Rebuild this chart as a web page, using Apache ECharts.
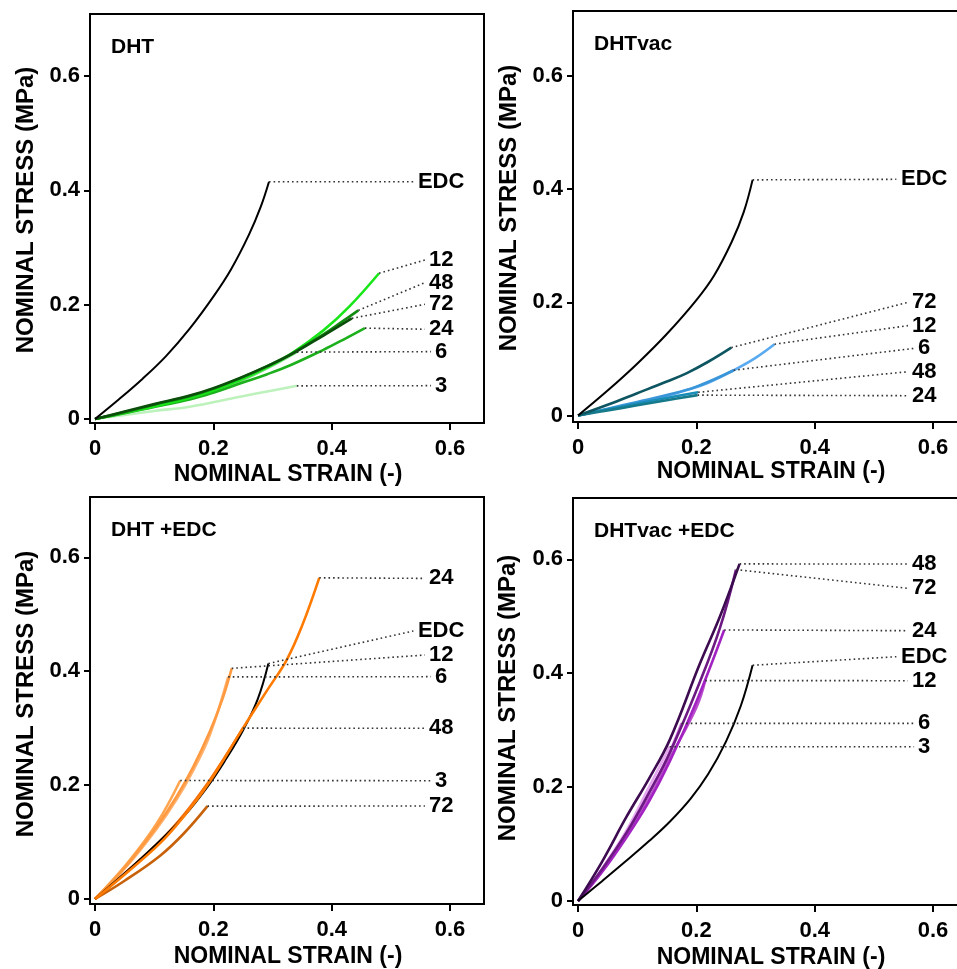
<!DOCTYPE html>
<html>
<head>
<meta charset="utf-8">
<script src="https://cdn.jsdelivr.net/npm/echarts@6/dist/echarts.min.js"></script>
<style>
  html, body { margin: 0; padding: 0; background: #fff; overflow: hidden; }
  #chart { width: 1000px; height: 969px; }
</style>
</head>
<body>
<div id="chart"></div>
<script>
// tick values shared by all four panels
var ticks = [0, 0.2, 0.4, 0.6];

// ---- DHT ----
var dhtLabels = ['EDC', '12', '48', '72', '24', '6', '3'];
var dhtLabelY = [0.415, 0.278, 0.2385, 0.2006, 0.157, 0.1178, 0.0583];
var dhtEDC = [[0,0],[0.04,0.034],[0.08,0.07],[0.12,0.11],[0.16,0.158],[0.2,0.214],[0.23,0.262],[0.26,0.322],[0.28,0.371],[0.294,0.415]];
var dht12 = [[0,0],[0.05,0.011],[0.1,0.022],[0.16,0.037],[0.2,0.05],[0.245,0.068],[0.29,0.09],[0.33,0.113],[0.386,0.155],[0.43,0.197],[0.48,0.255]];
var dht48 = [[0,0],[0.05,0.012],[0.1,0.025],[0.16,0.04],[0.2,0.053],[0.245,0.071],[0.29,0.092],[0.33,0.113],[0.386,0.148],[0.42,0.172],[0.445,0.19]];
var dht72 = [[0,0],[0.05,0.013],[0.1,0.026],[0.16,0.041],[0.2,0.054],[0.245,0.072],[0.29,0.092],[0.33,0.112],[0.386,0.146],[0.434,0.176]];
var dht24 = [[0,0],[0.05,0.01],[0.1,0.021],[0.16,0.034],[0.2,0.046],[0.245,0.062],[0.29,0.078],[0.33,0.094],[0.386,0.121],[0.42,0.139],[0.456,0.159]];
var dht6 = [[0,0],[0.05,0.011],[0.1,0.023],[0.16,0.037],[0.2,0.049],[0.245,0.066],[0.29,0.088],[0.341,0.117]];
var dht3 = [[0,0],[0.05,0.007],[0.1,0.014],[0.16,0.0215],[0.245,0.039],[0.3,0.05],[0.341,0.058]];

// ---- DHTvac ----
var vacLabels = ['EDC', '72', '12', '6', '48', '24'];
var vacLabelY = [0.4175, 0.2, 0.1588, 0.1187, 0.0774, 0.035];
var vacEDC = [[0,0],[0.05,0.044],[0.1,0.0915],[0.15,0.144],[0.2,0.204],[0.23,0.2475],[0.26,0.3075],[0.28,0.3595],[0.295,0.4165]];
var vac72 = [[0,0],[0.05,0.019],[0.099,0.039],[0.15,0.06],[0.184,0.075],[0.22,0.095],[0.259,0.12]];
var vac12 = [[0,0],[0.05,0.011],[0.099,0.022],[0.15,0.035],[0.184,0.045],[0.22,0.058],[0.263,0.08],[0.3,0.102],[0.332,0.126]];
var vac6 = [[0,0],[0.05,0.012],[0.1,0.024],[0.15,0.036],[0.2,0.051],[0.263,0.08]];
var vac48 = [[0,0],[0.05,0.011],[0.1,0.021],[0.15,0.031],[0.203,0.041]];
var vac24 = [[0,0],[0.05,0.009],[0.1,0.018],[0.15,0.027],[0.202,0.036]];

// ---- DHT +EDC ----
var dheLabels = ['24', 'EDC', '12', '6', '48', '3', '72'];
var dheLabelY = [0.563, 0.4706, 0.4284, 0.3904, 0.2997, 0.2077, 0.1633];
var dheEDC = [[0,0],[0.05,0.045],[0.1,0.0925],[0.15,0.145],[0.19,0.197],[0.22,0.2435],[0.25,0.296],[0.275,0.351],[0.293,0.4135]];
var dhe24 = [[0,0],[0.05,0.043],[0.11,0.098],[0.15,0.145],[0.19,0.2],[0.25,0.3],[0.29,0.365],[0.324,0.42],[0.35,0.48],[0.379,0.564]];
var dhe12 = [[0,0],[0.054,0.06],[0.104,0.127],[0.138,0.18],[0.166,0.232],[0.194,0.294],[0.215,0.35],[0.231,0.405]];
var dhe6 = [[0,0],[0.054,0.058],[0.104,0.123],[0.138,0.175],[0.166,0.226],[0.194,0.288],[0.225,0.39]];
var dhe48 = [[0,0],[0.05,0.045],[0.11,0.102],[0.15,0.148],[0.19,0.203],[0.22,0.25],[0.25,0.3]];
var dhe3 = [[0,0],[0.054,0.062],[0.104,0.132],[0.144,0.208]];
var dhe72 = [[0,0],[0.05,0.032],[0.11,0.076],[0.15,0.115],[0.19,0.163]];

// ---- DHTvac +EDC ----
var dveLabels = ['48', '72', '24', 'EDC', '12', '6', '3'];
var dveLabelY = [0.5917, 0.549, 0.4747, 0.429, 0.3869, 0.312, 0.271];
var dveEDC = [[0,0],[0.04,0.0344],[0.08,0.0692],[0.12,0.1052],[0.155,0.1392],[0.19,0.1794],[0.22,0.2229],[0.25,0.2799],[0.275,0.3424],[0.295,0.414]];
var dve48 = [[0,0],[0.04,0.068],[0.082,0.148],[0.12,0.215],[0.155,0.283],[0.206,0.417],[0.24,0.5],[0.273,0.592]];
var dve72 = [[0,0],[0.04,0.055],[0.082,0.12],[0.12,0.19],[0.155,0.26],[0.206,0.385],[0.24,0.48],[0.267,0.582]];
var dve24 = [[0,0],[0.04,0.05],[0.082,0.112],[0.12,0.175],[0.155,0.245],[0.2,0.35],[0.247,0.476]];
var dve12 = [[0,0],[0.04,0.052],[0.082,0.115],[0.12,0.18],[0.16,0.26],[0.2,0.34],[0.215,0.387]];
var dve6 = [[0,0],[0.04,0.054],[0.082,0.12],[0.12,0.19],[0.15,0.25],[0.175,0.312]];
var dve3 = [[0,0],[0.04,0.056],[0.082,0.124],[0.12,0.2],[0.155,0.271]];

var FONT = 'Liberation Sans, Arial, sans-serif';
var LABEL_X = 0.585;
var PX_PER_X = 591.7;

var panels = [
  { title: 'DHT', grid: { left: 90, top: 14, width: 394, height: 409 }, x: [-0.0085, 0.6574], y: [-0.007, 0.7084],
    labels: dhtLabels, labelY: dhtLabelY,
    curves: { EDC: dhtEDC, '12': dht12, '48': dht48, '72': dht72, '24': dht24, '6': dht6, '3': dht3 },
    order: ['3', '6', '24', '12', '48', '72', 'EDC'],
    colors: { EDC: '#000000', '12': '#19e619', '48': '#108a10', '72': '#0b4d0b', '24': '#1cb01c', '6': '#7fe07f', '3': '#bdf2bd' } },
  { title: 'DHTvac', grid: { left: 573, top: 11, width: 400, height: 411 }, x: [-0.0085, 0.6675], y: [-0.0115, 0.715],
    labels: vacLabels, labelY: vacLabelY,
    curves: { EDC: vacEDC, '72': vac72, '12': vac12, '6': vac6, '48': vac48, '24': vac24 },
    order: ['12', '6', '48', '24', '72', 'EDC'],
    colors: { EDC: '#000000', '72': '#0d5560', '12': '#5aaaf0', '6': '#3a96d8', '48': '#1a8cb8', '24': '#167a8a' } },
  { title: 'DHT +EDC', grid: { left: 90, top: 497, width: 394, height: 407 }, x: [-0.0085, 0.6574], y: [-0.0088, 0.7059],
    labels: dheLabels, labelY: dheLabelY,
    curves: { EDC: dheEDC, '24': dhe24, '12': dhe12, '6': dhe6, '48': dhe48, '3': dhe3, '72': dhe72 },
    order: ['6', '3', '12', '48', '72', 'EDC', '24'],
    colors: { EDC: '#000000', '24': '#ff7a00', '12': '#ff9a40', '6': '#ffb270', '48': '#f06e10', '3': '#ffa550', '72': '#c8620a' } },
  { title: 'DHTvac +EDC', grid: { left: 573, top: 498, width: 400, height: 407 }, x: [-0.0085, 0.6675], y: [-0.007, 0.7077],
    labels: dveLabels, labelY: dveLabelY,
    curves: { EDC: dveEDC, '48': dve48, '72': dve72, '24': dve24, '12': dve12, '6': dve6, '3': dve3 },
    order: ['3', '6', '12', '24', '72', '48', 'EDC'],
    colors: { EDC: '#000000', '48': '#3d0b50', '72': '#6c1a82', '24': '#a322c2', '12': '#b94ccc', '6': '#cd70dc', '3': '#e4a6ee' } }
];

function textHalfWidth(t) {
  var w = 0;
  for (var i = 0; i < t.length; i++) w += /[0-9]/.test(t[i]) ? 0.556 : 0.722;
  return w * 22 / 2;
}

var option = {
  backgroundColor: '#fff',
  animation: false,
  grid: [], xAxis: [], yAxis: [], series: [], graphic: []
};

panels.forEach(function (p, i) {
  option.grid.push(Object.assign({ show: true, borderColor: '#000', borderWidth: 2, containLabel: false }, p.grid));
  option.xAxis.push({
    type: 'value', gridIndex: i, min: p.x[0], max: p.x[1],
    splitLine: { show: false },
    axisLine: { onZero: false, lineStyle: { color: '#000', width: 2 } },
    axisTick: { customValues: ticks, length: 7, lineStyle: { color: '#000', width: 2 } },
    axisLabel: { customValues: ticks, margin: 15, color: '#000', fontFamily: FONT, fontWeight: 'bold', fontSize: 22 }
  });
  option.yAxis.push({
    type: 'value', gridIndex: i, min: p.y[0], max: p.y[1],
    splitLine: { show: false },
    axisLine: { onZero: false, lineStyle: { color: '#000', width: 2 } },
    axisTick: { customValues: ticks, length: 6, lineStyle: { color: '#000', width: 2 } },
    axisLabel: { customValues: ticks, margin: 10, color: '#000', fontFamily: FONT, fontWeight: 'bold', fontSize: 22 }
  });

  // curves
  p.order.forEach(function (name) {
    option.series.push({
      type: 'line', xAxisIndex: i, yAxisIndex: i, data: p.curves[name], smooth: 0.4,
      showSymbol: false, symbol: 'none', silent: true,
      lineStyle: { color: p.colors[name], width: name === 'EDC' ? 2 : 2.6 }
    });
  });

  // dotted leader lines and end labels
  var labelPts = [];
  p.labels.forEach(function (name, k) {
    var c = p.curves[name];
    var end = c[c.length - 1];
    var lx = LABEL_X - (textHalfWidth(name) + 4) / PX_PER_X;
    option.series.push({
      type: 'line', xAxisIndex: i, yAxisIndex: i, data: [end, [lx, p.labelY[k]]],
      showSymbol: false, symbol: 'none', silent: true,
      lineStyle: { color: '#333', width: 1.6, type: [1.6, 3] }
    });
    labelPts.push({ value: [LABEL_X, p.labelY[k]], name: name });
  });
  option.series.push({
    type: 'scatter', xAxisIndex: i, yAxisIndex: i, data: labelPts, symbolSize: 0, silent: true,
    itemStyle: { opacity: 1, color: 'rgba(0,0,0,0)' },
    label: { show: true, position: [0, 0], align: 'center', verticalAlign: 'middle', opacity: 1,
      formatter: function (d) { return d.name; },
      color: '#000', fontFamily: FONT, fontWeight: 'bold', fontSize: 22 }
  });

  // panel title
  option.graphic.push({
    type: 'text', left: p.grid.left + 21, top: p.grid.top + 23,
    style: { text: p.title, fill: '#000', font: 'bold 21px ' + FONT }
  });
});

// axis titles
var xTitlePos = [[288, 475], [771, 472], [288, 957], [771, 958]];
var yTitlePos = [[26, 210], [509, 208], [26, 694], [508, 698]];
xTitlePos.forEach(function (pt) {
  option.graphic.push({
    type: 'text', x: pt[0], y: pt[1],
    style: { text: 'NOMINAL STRAIN (-)', fill: '#000', font: 'bold 23px ' + FONT, align: 'center', verticalAlign: 'middle' }
  });
});
yTitlePos.forEach(function (pt) {
  option.graphic.push({
    type: 'text', x: pt[0], y: pt[1], rotation: Math.PI / 2,
    style: { text: 'NOMINAL STRESS (MPa)', fill: '#000', font: 'bold 24px ' + FONT, align: 'center', verticalAlign: 'middle' }
  });
});

var myChart = echarts.init(document.getElementById('chart'));
myChart.setOption(option);
</script>
</body>
</html>
